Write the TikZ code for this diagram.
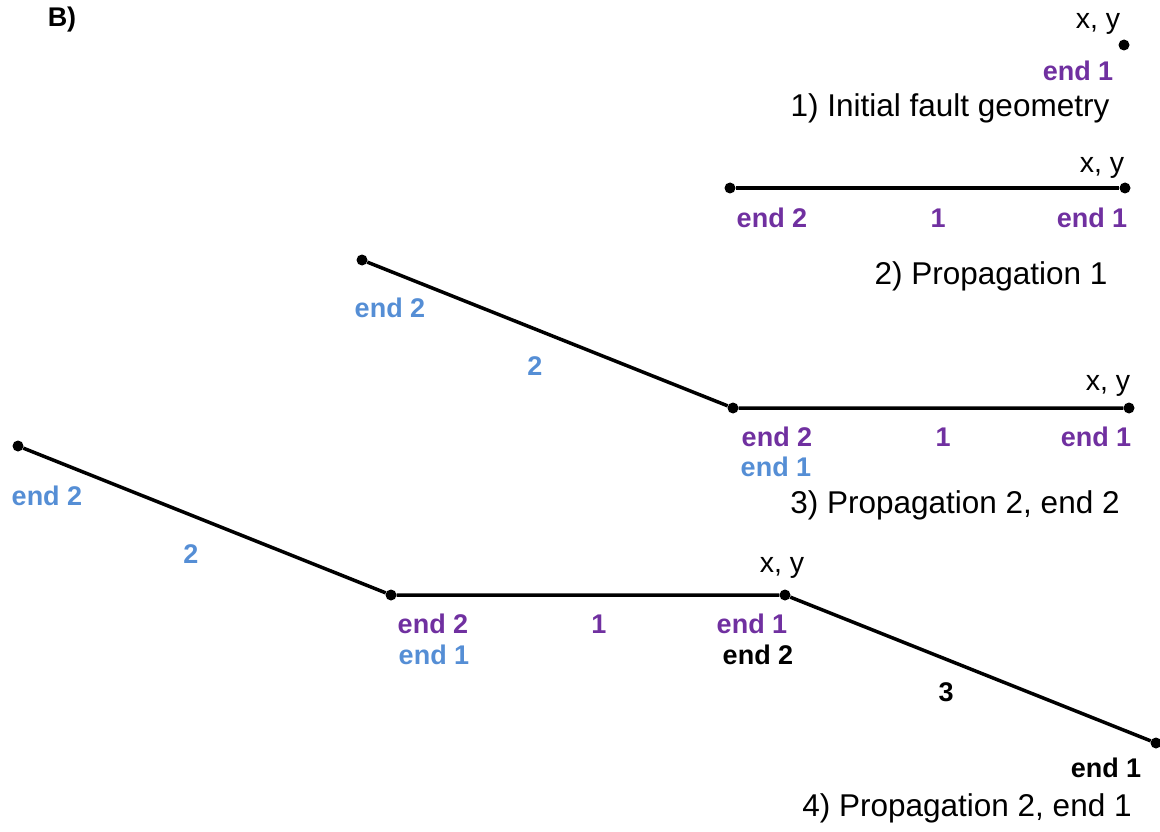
\documentclass[tikz,border=0pt]{standalone}
\usepackage{fontspec}
\setmainfont{Liberation Sans}
\definecolor{fpurple}{HTML}{7030A0}
\definecolor{fblue}{HTML}{558ED5}
\begin{document}
\begin{tikzpicture}[x=1pt,y=-1pt,
  dot/.style={circle,fill=black,inner sep=0pt,minimum size=11pt},
  fault/.style={line width=3.5pt,black},
  lbl/.style={anchor=base,inner sep=0pt,font=\fontsize{27}{32}\selectfont\bfseries},
  pur/.style={lbl,text=fpurple},
  blu/.style={lbl,text=fblue},
  blk/.style={lbl,text=black},
  xy/.style={anchor=base,inner sep=0pt,font=\fontsize{28.5}{34}\selectfont},
  captext/.style={anchor=base,inner sep=0pt,font=\fontsize{31.5}{38}\selectfont}]
\useasboundingbox (0,0) rectangle (1160,832);
% title
\node[blk] (title) at (62,27) {B)};
% panel 1
\node[dot] (a1) at (1124,45) {};
\node[xy] (a1xy) at (1098,29) {x, y};
\node[pur] (a1e1) at (1078,81) {end 1};
\node[captext] (c1) at (950,117) {1) Initial fault geometry};
% panel 2
\node[dot] (b2) at (730,188) {};
\node[dot] (b1) at (1125,188) {};
\draw[fault] (b2) -- (b1);
\node[xy] (bxy) at (1102,173) {x, y};
\node[pur] (be2) at (772,227) {end 2};
\node[pur] (bs1) at (938,227) {1};
\node[pur] (be1) at (1092,227) {end 1};
\node[captext] (c2) at (991,284) {2) Propagation 1};
% panel 3
\node[dot] (d3) at (362,260) {};
\node[dot] (d2) at (733,408) {};
\node[dot] (d1) at (1129,408) {};
\draw[fault] (d3) -- (d2) -- (d1);
\node[blu] (de3) at (390,317) {end 2};
\node[blu] (ds2) at (535,375) {2};
\node[xy] (dxy) at (1108,390) {x, y};
\node[pur] (de2) at (777,446) {end 2};
\node[pur] (ds1) at (943,446) {1};
\node[pur] (de1) at (1096,446) {end 1};
\node[blu] (de2b) at (776,476) {end 1};
\node[captext] (c3) at (955,513) {3) Propagation 2, end 2};
% panel 4
\node[dot] (e4) at (18,446) {};
\node[dot] (e3) at (391,595) {};
\node[dot] (e2) at (785,595) {};
\node[dot] (e1) at (1156,743) {};
\draw[fault] (e4) -- (e3) -- (e2) -- (e1);
\node[blu] (ee4) at (47,505) {end 2};
\node[blu] (es2) at (191,563) {2};
\node[xy] (exy) at (782,572) {x, y};
\node[pur] (ee3) at (433,633) {end 2};
\node[pur] (es1) at (599,633) {1};
\node[pur] (ee2) at (752,633) {end 1};
\node[blu] (ee3b) at (434,664) {end 1};
\node[blk] (ee2b) at (758,664) {end 2};
\node[blk] (es3) at (946,701) {3};
\node[blk] (ee1) at (1106,777) {end 1};
\node[captext] (c4) at (967,816) {4) Propagation 2, end 1};
\end{tikzpicture}
\end{document}
